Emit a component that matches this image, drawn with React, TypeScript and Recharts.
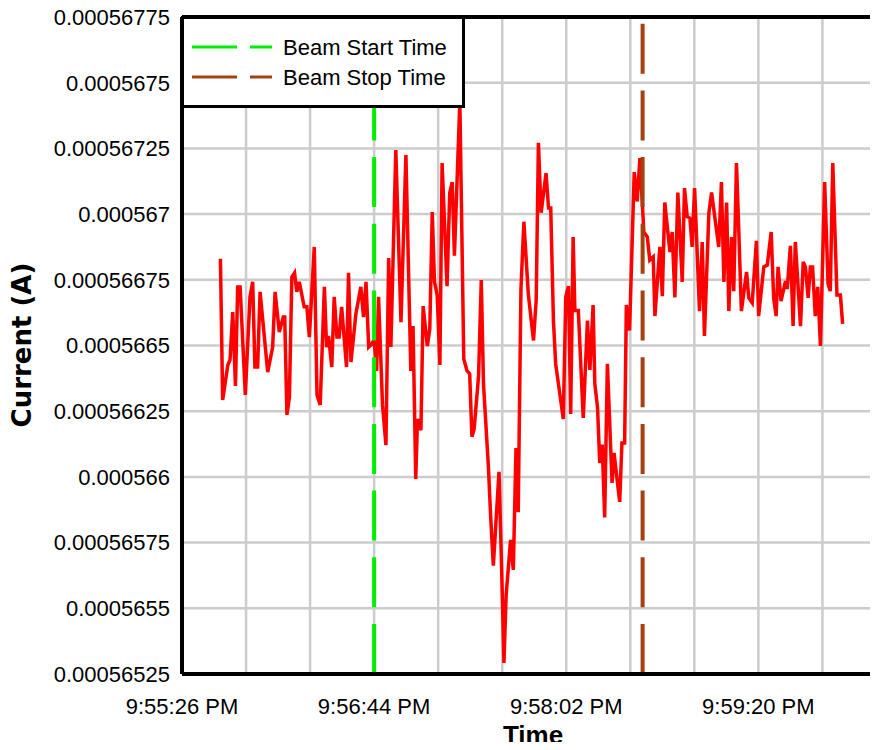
import React from "react";
import { LineChart, Line, XAxis, YAxis, CartesianGrid, ReferenceLine } from "recharts";

// seconds after 9:55:26 PM
const startClock = 21 * 3600 + 55 * 60 + 26;

const timeSec = [
  15.6, 16.5, 18.6, 19.5, 20.6, 21.7, 22.6, 23.6, 25.7, 27.6,
  28.7, 29.6, 30.7, 31.7, 34.8, 36.8, 37.8, 39.5, 41.1, 41.7,
  42.6, 43.6, 44.6, 45.7, 46.6, 47.6, 49.6, 50.7, 51.7, 53.7,
  54.8, 56.1, 57.8, 58.7, 59.5, 60.8, 61.8, 62.9, 63.8, 64.8,
  66.8, 67.6, 68.6, 70.6, 72.6, 73.7, 74.7, 75.8, 76.7, 78.0,
  79.0, 79.8, 81.4, 82.8, 83.9, 84.8, 86.8, 88.9, 90.9, 92.9,
  93.8, 94.9, 95.6, 97.0, 97.9, 99.6, 100.6, 101.6, 102.5, 103.6,
  104.7, 105.6, 107.6, 108.7, 109.7, 110.6, 112.8, 114.4, 115.7, 116.8,
  117.7, 118.6, 120.4, 121.5, 122.4, 124.4, 125.3, 126.4, 128.7, 129.8,
  130.7, 131.6, 133.4, 134.5, 135.6, 136.5, 137.6, 138.8, 140.6, 142.7,
  143.8, 144.7, 145.8, 147.8, 148.8, 149.7, 150.8, 151.7, 154.8, 155.8,
  156.9, 157.8, 158.8, 159.5, 160.9, 162.9, 164.6, 165.6, 166.9, 167.6,
  168.7, 169.6, 170.6, 171.6, 172.7, 174.6, 175.4, 177.7, 178.6, 179.7,
  180.4, 181.7, 183.6, 184.8, 185.9, 187.5, 188.9, 189.9, 191.3, 192.0,
  194.0, 195.0, 196.0, 198.1, 199.0, 200.1, 201.3, 203.1, 204.0, 205.1,
  206.2, 207.1, 208.1, 210.1, 211.2, 212.1, 213.9, 215.0, 217.9, 219.0,
  220.0, 221.1, 222.0, 223.1, 224.0, 225.1, 226.0, 227.1, 229.2, 230.1,
  231.5, 233.2, 234.1, 236.2, 237.6, 239.2, 240.2, 241.2, 242.0, 243.2,
  245.0, 245.7, 247.0, 248.1, 249.0, 251.1, 252.2, 253.1, 254.2, 255.1,
  256.0, 257.1, 258.1, 259.2, 260.9, 262.3, 263.2, 264.2, 265.9, 267.3,
  268.2,
];

const currentA = [
  0.00056683, 0.000566293, 0.000566426, 0.000566445, 0.000566627, 0.000566346, 0.000566723, 0.000566723, 0.000566312, 0.000566685,
  0.000566742, 0.000566418, 0.000566418, 0.000566704, 0.000566399, 0.000566494, 0.000566704, 0.000566551, 0.000566608, 0.000566608,
  0.000566236, 0.000566304, 0.000566761, 0.000566777, 0.000566704, 0.000566742, 0.000566647, 0.000566647, 0.000566532, 0.000566875,
  0.000566312, 0.000566274, 0.000566723, 0.000566494, 0.000566536, 0.000566418, 0.000566685, 0.000566532, 0.000566532, 0.000566647,
  0.000566418, 0.000566777, 0.000566437, 0.000566621, 0.000566723, 0.000566608, 0.000566742, 0.000566494, 0.000566502, 0.000566521,
  0.000566403, 0.000566685, 0.000566274, 0.000566121, 0.000566833, 0.000566494, 0.000567244, 0.000566589, 0.000567225, 0.000566403,
  0.000566574, 0.000565992, 0.00056622, 0.000566178, 0.00056665, 0.000566498, 0.000566563, 0.000567008, 0.000566742, 0.000566692,
  0.000566426, 0.000567194, 0.000566726, 0.00056708, 0.000567122, 0.000566842, 0.000567427, 0.000566449, 0.000566404, 0.000566392,
  0.000566153, 0.000566182, 0.000566384, 0.000566749, 0.000566354, 0.000566038, 0.000565851, 0.000565662, 0.000566019, 0.000565638,
  0.000565292, 0.000565551, 0.00056576, 0.000565646, 0.00056611, 0.000565866, 0.000566713, 0.000566971, 0.000566696, 0.000566519,
  0.000566673, 0.000567271, 0.000567005, 0.000567156, 0.000567023, 0.000567023, 0.000566595, 0.00056643, 0.00056622, 0.000566685,
  0.000566726, 0.000566239, 0.000566913, 0.000566633, 0.000566633, 0.000566224, 0.000566595, 0.000566407, 0.000566654, 0.000566354,
  0.000566264, 0.000566053, 0.000566123, 0.000565846, 0.00056643, 0.000565977, 0.000566091, 0.000565905, 0.000566129, 0.000566129,
  0.000566654, 0.000566557, 0.00056716, 0.000567048, 0.000567213, 0.000566932, 0.000566913, 0.000566825, 0.000566837, 0.000566612,
  0.000566875, 0.000566688, 0.000567044, 0.000566856, 0.000566932, 0.000566683, 0.000567082, 0.000566742, 0.000567099, 0.00056699,
  0.000566985, 0.000566875, 0.000567099, 0.000566631, 0.000566894, 0.000566536, 0.000567004, 0.000567082, 0.000566875, 0.000567122,
  0.000566742, 0.000567044, 0.000566631, 0.000566913, 0.000566707, 0.000567194, 0.000566951, 0.000566631, 0.00056678, 0.000566681,
  0.000566662, 0.000566898, 0.000566612, 0.000566799, 0.000566806, 0.000566932, 0.000566681, 0.000566612, 0.000566799, 0.000566669,
  0.000566745, 0.000566715, 0.000566879, 0.000566574, 0.000566894, 0.000566574, 0.000566818, 0.000566799, 0.000566681, 0.000566799,
  0.000566799, 0.000566612, 0.000566723, 0.000566498, 0.000567122, 0.000566734, 0.000566707, 0.000567194, 0.000566692, 0.000566692,
  0.000566582,
];

const yTicks = [
  0.00056525, 0.0005655, 0.00056575, 0.000566, 0.00056625, 0.0005665,
  0.00056675, 0.000567, 0.00056725, 0.0005675, 0.00056775,
];
const xTicks = [0, 26, 52, 78, 104, 130, 156, 182, 208, 234, 260];
const labelEvery = 78;

const beamStart = 78;
const beamStop = 187;

const legendLabels = ["Beam Start Time", "Beam Stop Time"];
const legendColors = ["#00ee00", "#a3410f"];

const data = timeSec.map((t, i) => ({ t, current: currentA[i] }));

const pad = (n: number) => String(n).padStart(2, "0");

function clockLabel(t: number) {
  if (t % labelEvery !== 0) return "";
  const total = startClock + t;
  let h = Math.floor(total / 3600) % 24;
  const m = Math.floor((total % 3600) / 60);
  const s = total % 60;
  const ap = h >= 12 ? "PM" : "AM";
  h = h % 12 || 12;
  return `${h}:${pad(m)}:${pad(s)} ${ap}`;
}

const font = '"Liberation Sans", Arial, Helvetica, sans-serif';

export default function App() {
  return (
    <div style={{ margin: -8, width: 878, height: 750, overflow: "hidden", position: "relative", fontFamily: font, background: "#fff" }}>
      <LineChart width={886} height={750} data={data} margin={{ top: 17, right: 2, bottom: 0, left: 0 }}>
        <CartesianGrid stroke="#cccccc" strokeWidth={2.5} />
        <XAxis
          dataKey="t"
          type="number"
          domain={[0, 285]}
          ticks={xTicks}
          interval={0}
          allowDataOverflow
          tickFormatter={clockLabel}
          height={76}
          tickLine={false}
          tickSize={6}
          tickMargin={18}
          axisLine={{ stroke: "#000", strokeWidth: 4 }}
          tick={{ fill: "#000", fontSize: 22 }}
          label={{
            content: (p: any) => (
              <text x={p.viewBox.x + p.viewBox.width / 2} y={744} textAnchor="middle" fontSize={26} fontWeight="bold" fill="#000">
                Time
              </text>
            ),
          }}
        />
        <YAxis
          type="number"
          domain={[0.00056525, 0.00056775]}
          ticks={yTicks}
          interval={0}
          allowDataOverflow
          tickFormatter={(v: number) => String(v)}
          width={182}
          tickLine={false}
          tickSize={6}
          tickMargin={6}
          axisLine={{ stroke: "#000", strokeWidth: 4 }}
          tick={{ fill: "#000", fontSize: 22 }}
          label={{
            content: () => (
              <text
                x={0}
                y={0}
                transform="translate(31 345) rotate(-90)"
                textAnchor="middle"
                fontSize={26}
                fontWeight="bold"
                fill="#000"
                fontFamily='"DejaVu Sans", sans-serif'
              >
                Current (A)
              </text>
            ),
          }}
        />
        <ReferenceLine y={0.00056775} stroke="#000" strokeWidth={4} />
        <Line
          type="linear"
          dataKey="current"
          stroke="#ff0000"
          strokeWidth={3.5}
          dot={false}
          isAnimationActive={false}
        />
        <ReferenceLine x={beamStart} stroke={legendColors[0]} strokeWidth={4} strokeDasharray="50 16.7" />
        <ReferenceLine x={beamStop} stroke={legendColors[1]} strokeWidth={4} strokeDasharray="50 16.7" />
      </LineChart>
      <div
        style={{
          position: "absolute",
          left: 181,
          top: 16,
          width: 284,
          height: 92,
          boxSizing: "border-box",
          border: "3px solid #000",
          background: "#fff",
        }}
      >
        <svg width={278} height={86} style={{ display: "block" }}>
          {legendLabels.map((lab, i) => (
            <g key={lab}>
              <line x1={8} x2={88} y1={28 + i * 30} y2={28 + i * 30} stroke={legendColors[i]} strokeWidth={3} strokeDasharray="45 13" />
              <text x={99} y={28 + i * 30} dy="0.35em" fontSize={22} fill="#000" fontFamily={font}>
                {lab}
              </text>
            </g>
          ))}
        </svg>
      </div>
    </div>
  );
}
